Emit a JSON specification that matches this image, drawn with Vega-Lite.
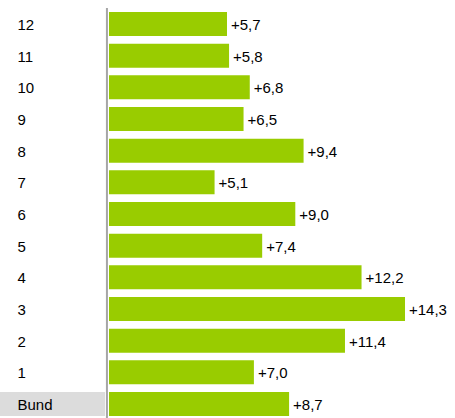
{
  "$schema": "https://vega.github.io/schema/vega-lite/v6.json",
  "width": 455,
  "height": 412,
  "autosize": "none",
  "padding": {"top": 8, "left": 0, "right": 0, "bottom": 0},
  "background": "white",
  "config": {
    "view": {"stroke": null},
    "locale": {"number": {"decimal": ",", "thousands": ".", "grouping": [3], "currency": ["", " €"]}},
    "text": {"font": "Liberation Sans", "fontSize": 15, "color": "black"}
  },
  "data": {
    "values": [
      {"gebiet": "12", "wert": 5.7},
      {"gebiet": "11", "wert": 5.8},
      {"gebiet": "10", "wert": 6.8},
      {"gebiet": "9", "wert": 6.5},
      {"gebiet": "8", "wert": 9.4},
      {"gebiet": "7", "wert": 5.1},
      {"gebiet": "6", "wert": 9.0},
      {"gebiet": "5", "wert": 7.4},
      {"gebiet": "4", "wert": 12.2},
      {"gebiet": "3", "wert": 14.3},
      {"gebiet": "2", "wert": 11.4},
      {"gebiet": "1", "wert": 7.0},
      {"gebiet": "Bund", "wert": 8.7}
    ]
  },
  "encoding": {
    "y": {
      "field": "gebiet",
      "type": "nominal",
      "sort": null,
      "axis": null,
      "scale": {
        "domain": ["12", "11", "10", "9", "8", "7", "6", "5", "4", "3", "2", "1", "Bund"],
        "paddingInner": 0.242,
        "paddingOuter": 0.126
      }
    }
  },
  "layer": [
    {
      "transform": [{"filter": "datum.gebiet === 'Bund'"}],
      "mark": {"type": "rect", "color": "#dcdcdc"},
      "encoding": {
        "x": {"datum": -5.3, "type": "quantitative", "scale": {"domain": [-5.266, 16.715], "nice": false, "zero": false}, "axis": null},
        "x2": {"datum": -0.19}
      }
    },
    {
      "mark": {"type": "bar", "color": "#99cc00"},
      "encoding": {
        "x": {"field": "wert", "type": "quantitative"}
      }
    },
    {
      "mark": {"type": "text", "align": "left", "baseline": "middle", "dx": 4, "dy": 1},
      "encoding": {
        "x": {"field": "wert", "type": "quantitative"},
        "text": {"field": "wert", "type": "quantitative", "format": "+.1f"}
      }
    },
    {
      "mark": {"type": "text", "align": "left", "baseline": "middle", "dy": 1},
      "encoding": {
        "x": {"datum": -4.42, "type": "quantitative"},
        "text": {"field": "gebiet", "type": "nominal"}
      }
    },
    {
      "data": {"values": [{"pos": -0.1}]},
      "mark": {"type": "rule", "color": "#a6a6a6", "strokeWidth": 2},
      "encoding": {
        "x": {"field": "pos", "type": "quantitative"},
        "y": null
      }
    }
  ]
}
